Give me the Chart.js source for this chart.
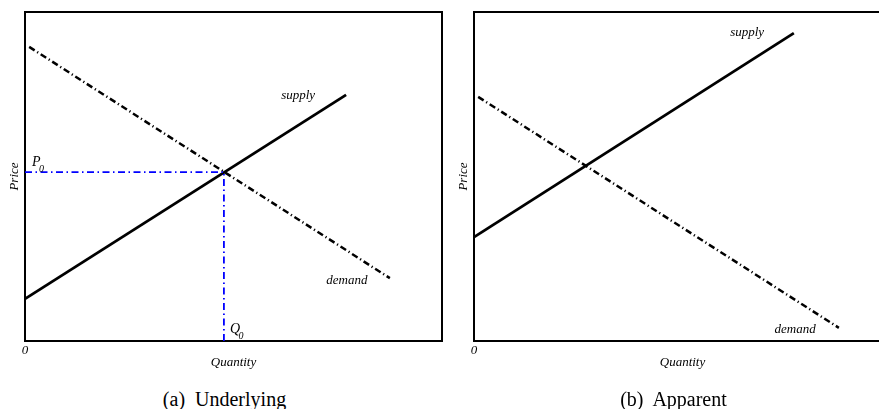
<!DOCTYPE html>
<html>
<head>
<meta charset="utf-8">
<script src="https://cdn.jsdelivr.net/npm/chart.js@4"></script>
<style>
  html, body { margin: 0; padding: 0; background: #fff; overflow: hidden; }
  body { width: 879px; height: 409px; position: relative; }
  .panel { position: absolute; top: 0; width: 450px; height: 380px; }
  .caption {
    position: absolute; top: 389px; width: 449px; text-align: center;
    font: 20px 'Liberation Serif', 'Times New Roman', serif; line-height: 20px; color: #000;
    white-space: pre;
  }
</style>
</head>
<body>
<div class="panel" style="left:0"><canvas id="underlying"></canvas></div>
<div class="panel" style="left:449px"><canvas id="apparent"></canvas></div>
<div class="caption" style="left:0">(a)  Underlying</div>
<div class="caption" style="left:449px">(b)  Apparent</div>
<script>
// axis ranges (arbitrary units, no ticks shown)
var qRange = [0, 10];
var pRange = [0, 10];

// (a) underlying
var underlyingSupplyQ = [0, 7.70];
var underlyingSupplyP = [1.28, 7.48];
var underlyingDemandQ = [0.10, 8.75];
var underlyingDemandP = [8.94, 1.91];
var equilibriumQ = 4.77;
var equilibriumP = 5.13;

// (b) apparent
var apparentSupplyQ = [0, 7.67];
var apparentSupplyP = [3.16, 9.36];
var apparentDemandQ = [0.10, 8.75];
var apparentDemandP = [7.42, 0.40];

function pts(xs, ys) {
    return xs.map(function (x, i) { return { x: x, y: ys[i] }; });
}

var serif = "'Liberation Serif', 'Times New Roman', serif";
var italic = "italic 13px " + serif;

// draws axis titles, curve names and the P0/Q0 marks
var econLabels = {
    id: 'econLabels',
    afterDraw: function (chart, args, opts) {
        var ctx = chart.ctx, area = chart.chartArea;
        var xs = chart.scales.x, ys = chart.scales.y;
        ctx.save();
        ctx.fillStyle = '#000';
        ctx.font = italic;

        ctx.textAlign = 'center';
        ctx.textBaseline = 'middle';
        ctx.fillText('0', area.left, area.bottom + 10);
        ctx.fillText('Quantity', (area.left + area.right) / 2, area.bottom + 22);

        ctx.save();
        ctx.translate(area.left - 10.5, (area.top + area.bottom) / 2);
        ctx.rotate(-Math.PI / 2);
        ctx.fillText('Price', 0, 0);
        ctx.restore();

        (opts.names || []).forEach(function (n) {
            ctx.fillText(n.text, xs.getPixelForValue(n.q), ys.getPixelForValue(n.p));
        });

        (opts.marks || []).forEach(function (m) {
            var px = xs.getPixelForValue(m.q) + m.dx;
            var py = ys.getPixelForValue(m.p) + m.dy;
            ctx.textAlign = 'left';
            ctx.textBaseline = 'alphabetic';
            ctx.font = "italic 14px " + serif;
            ctx.fillText(m.text, px, py);
            var w = ctx.measureText(m.text).width;
            ctx.font = "italic 10px " + serif;
            ctx.fillText(m.sub, px + w - 1.5, py + 6);
        });
        ctx.restore();
    }
};

var edge = { display: true, color: '#000', width: 2 };

function axis(position, range) {
    return {
        type: 'linear',
        position: position,
        min: range[0],
        max: range[1],
        ticks: { display: false },
        grid: { display: false, drawTicks: false },
        border: edge
    };
}

function line(data, color, width, dash) {
    return {
        data: data,
        showLine: true,
        borderColor: color,
        borderWidth: width,
        borderDash: dash,
        pointRadius: 0,
        fill: false
    };
}

function makeChart(id, datasets, labelOpts) {
    return new Chart(document.getElementById(id), {
        type: 'scatter',
        data: { datasets: datasets },
        options: {
            responsive: true,
            maintainAspectRatio: false,
            animation: false,
            layout: { padding: { left: 25, right: 8, top: 12, bottom: 39 } },
            plugins: {
                legend: { display: false },
                tooltip: { enabled: false },
                econLabels: labelOpts
            },
            scales: {
                x: axis('bottom', qRange),
                y: axis('left', pRange),
                xTop: axis('top', qRange),
                yRight: axis('right', pRange)
            }
        },
        plugins: [econLabels]
    });
}

var demandDash = [6.5, 3, 1.2, 3];
var guideDash = [7, 3.5, 1.5, 3.5];

document.addEventListener('DOMContentLoaded', function () {
    makeChart('underlying', [
        line([{ x: qRange[0], y: equilibriumP }, { x: equilibriumQ, y: equilibriumP }], '#0000ff', 1.8, guideDash),
        line([{ x: equilibriumQ, y: pRange[0] }, { x: equilibriumQ, y: equilibriumP }], '#0000ff', 1.8, guideDash),
        line(pts(underlyingDemandQ, underlyingDemandP), '#000', 2.5, demandDash),
        line(pts(underlyingSupplyQ, underlyingSupplyP), '#000', 2.8, [])
    ], {
        names: [
            { text: 'supply', q: 6.55, p: 7.45 },
            { text: 'demand', q: 7.72, p: 1.85 }
        ],
        marks: [
            { text: 'P', sub: '0', q: qRange[0], p: equilibriumP, dx: 7, dy: -6 },
            { text: 'Q', sub: '0', q: equilibriumQ, p: pRange[0], dx: 6, dy: -8 }
        ]
    });

    makeChart('apparent', [
        line(pts(apparentDemandQ, apparentDemandP), '#000', 2.5, demandDash),
        line(pts(apparentSupplyQ, apparentSupplyP), '#000', 2.8, [])
    ], {
        names: [
            { text: 'supply', q: 6.55, p: 9.36 },
            { text: 'demand', q: 7.70, p: 0.36 }
        ],
        marks: []
    });
});
</script>
</body>
</html>
